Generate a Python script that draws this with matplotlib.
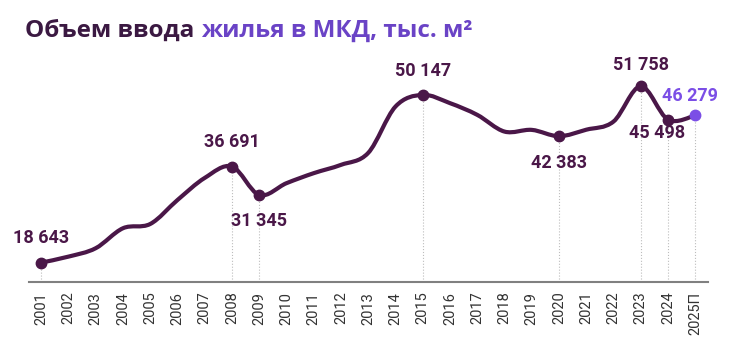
import numpy as np
import matplotlib.pyplot as plt
from matplotlib.path import Path
from matplotlib.patches import PathPatch

plt.rcParams['font.family'] = ['Roboto', 'DejaVu Sans']

# данные: ввод жилья в МКД, тыс. м2
years = ["2001", "2002", "2003", "2004", "2005", "2006", "2007", "2008", "2009",
         "2010", "2011", "2012", "2013", "2014", "2015", "2016", "2017", "2018",
         "2019", "2020", "2021", "2022", "2023", "2024", "2025П"]
values = [18643, 19770, 21350, 25100, 25900, 30400, 34550, 36691, 31345,
          33560, 35440, 37000, 39250, 47950, 50147, 48590, 46390, 43250,
          43570, 42383, 43600, 45130, 51758, 45498, 46279]
marked_years = ["2001", "2008", "2009", "2015", "2020", "2023", "2024", "2025П"]

dark = "#4a1748"
light = "#7b4ee6"

# смещения подписей (в пунктах)
label_offsets = {"2001": (0, 18), "2008": (0, 18), "2009": (0, -19),
                 "2015": (0, 17), "2020": (0, -19), "2023": (0, 15),
                 "2024": (-8, -10), "2025П": (-4, 14)}

x = np.arange(len(years))
y = np.array(values, dtype=float)

fig = plt.figure(figsize=(7.37, 3.55), dpi=100)
ax = fig.add_axes([0.0393, 0.2056, 0.9214, 0.645])

# сглаженная линия (кривые Безье по точкам)
pts = np.column_stack([x, y])
ext = np.vstack([pts[0], pts, pts[-1]])
verts = [tuple(pts[0])]
codes = [Path.MOVETO]
for i in range(len(pts) - 1):
    p0, p1, p2, p3 = ext[i], ext[i + 1], ext[i + 2], ext[i + 3]
    c1 = p1 + (p2 - p0) / 6
    c2 = p2 - (p3 - p1) / 6
    verts += [tuple(c1), tuple(c2), tuple(p2)]
    codes += [Path.CURVE4] * 3
ax.add_patch(PathPatch(Path(verts, codes), facecolor="none", edgecolor=dark,
                       lw=3.0, capstyle="round", joinstyle="round", zorder=3))

ymin = 15000
for yr in marked_years:
    i = years.index(yr)
    col = light if yr == "2025П" else dark
    ax.plot([x[i], x[i]], [ymin, y[i]], color="#bdbdbd", lw=0.8, ls=":", zorder=1)
    ax.plot(x[i], y[i], "o", color=col, ms=7.5, zorder=4)
    ax.annotate(f"{values[i]:,}".replace(",", " "), (x[i], y[i]),
                xytext=label_offsets[yr], textcoords="offset points",
                ha="center", va="center", fontsize=13, fontweight="bold",
                color=col, zorder=5)

ax.set_xlim(-0.45, len(years) - 1 + 0.47)
ax.set_ylim(ymin, 58000)
ax.set_xticks(x)
ax.set_xticklabels(years, rotation=90, fontsize=10.5, color="#333333")
ax.tick_params(axis="x", length=0, pad=7)
ax.set_yticks([])
for s in ["top", "right", "left"]:
    ax.spines[s].set_visible(False)
ax.spines["bottom"].set_color("#808080")
ax.spines["bottom"].set_linewidth(1.5)

# заголовок из двух цветов
tfont = dict(fontsize=17.5, fontweight="bold", family=["Open Sans", "DejaVu Sans"],
             va="center", ha="left")
t1 = fig.text(0.034, 0.912, "Объем ввода ", color="#3b1942", **tfont)
fig.canvas.draw()
bb = t1.get_window_extent()
x2 = bb.x1 / fig.bbox.width
fig.text(x2, 0.912, "жилья в МКД, тыс. м²", color="#6a43c6", **tfont)

fig.savefig("out.png", dpi=100)
